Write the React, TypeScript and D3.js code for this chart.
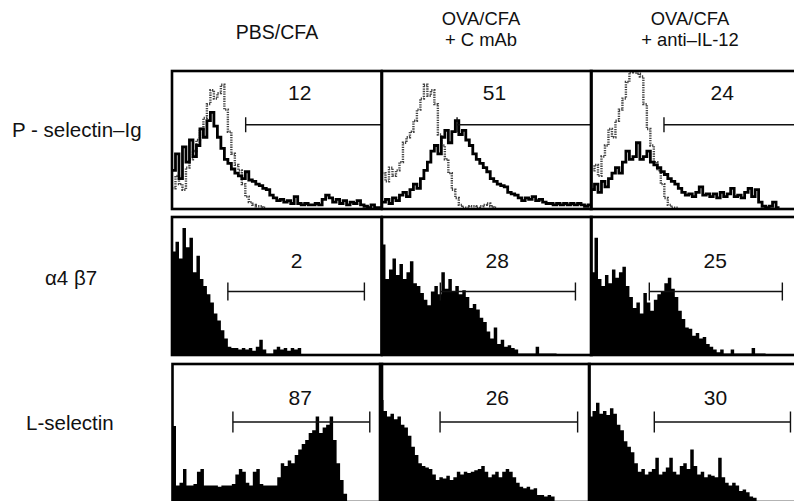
import * as d3 from 'd3';
import React, { useRef, useEffect } from 'react';

const width = 794;
const height = 501;
const bins = 60;

// column headers and row markers
const groupLines = [['PBS/CFA'], ['OVA/CFA', '+ C mAb'], ['OVA/CFA', '+ anti–IL-12']];
const markers = ['P - selectin–Ig', 'α4 β7', 'L-selectin'];
const percents = [
  [12, 51, 24],
  [2, 28, 25],
  [87, 26, 30],
];

// gates, in channel units (0..60)
const gateStart = [
  [21.1, 21.5, 20.9],
  [16.0, 16.7, 16.7],
  [17.3, 17.2, 18.7],
];
const gateEnd = [
  [60, 60, 60],
  [55.1, 55.4, 54.8],
  [56.5, 56.6, 57.7],
];

// P-selectin-Ig: stained (solid) and control (dotted), % of max count per channel
const pselPbs = [
  28, 40, 22, 45, 34, 50, 38, 46, 58, 52, 64, 70, 60, 52, 44, 36, 33, 29, 26, 24,
  22, 27, 21, 20, 18, 17, 15, 14, 10, 8, 6, 7, 5, 6, 4, 9, 4, 3, 4, 3,
  3, 4, 3, 7, 10, 8, 5, 7, 4, 6, 3, 5, 4, 6, 3, 2, 1, 3, 1, 1,
];
const pselCmab = [
  5, 7, 4, 8, 6, 10, 12, 9, 14, 18, 15, 22, 28, 34, 42, 46, 40, 52, 57, 48,
  56, 64, 54, 57, 50, 46, 40, 36, 33, 30, 27, 22, 20, 18, 17, 16, 12, 11, 10, 8,
  6, 8, 7, 9, 6, 7, 5, 4, 4, 3, 4, 3, 4, 3, 4, 3, 4, 3, 2, 3,
];
const pselAnti = [
  14, 18, 12, 20, 16, 22, 26, 30, 26, 34, 42, 36, 38, 48, 36, 38, 42, 34, 32, 30,
  27, 25, 22, 20, 18, 15, 12, 10, 11, 9, 12, 16, 10, 11, 9, 11, 8, 12, 9, 11,
  15, 9, 10, 8, 12, 15, 9, 14, 5, 2, 1, 2, 5, 1,
];
const pselCtrlPbs = [
  15, 24, 18, 14, 30, 36, 42, 50, 58, 66, 76, 86, 80, 84, 90, 72, 56, 40, 32, 28,
  18, 9, 5, 3, 2, 2, 1,
];
const pselCtrlCmab = [
  26, 20, 30, 24, 28, 34, 48, 52, 56, 64, 72, 80, 90, 82, 86, 76, 54, 46, 36, 26,
  14, 8, 3, 1, 1, 2, 2, 1, 2, 3, 4, 2, 1,
];
const pselCtrlAnti = [
  28, 32, 24, 38, 46, 58, 52, 64, 72, 80, 92, 99, 100, 98, 96, 76, 58, 46, 34, 28,
  18, 8, 3, 1, 1,
];

// alpha4 beta7
const a4b7Pbs = [
  75, 82, 70, 92, 78, 85, 60, 72, 55, 50, 44, 38, 30, 25, 18, 12, 6, 5, 5, 4,
  5, 4, 5, 3, 6, 11, 4, 1, 1, 4, 6, 4, 5, 3, 5, 4, 5,
];
const a4b7Cmab = [
  80, 55, 62, 70, 58, 66, 55, 60, 68, 52, 50, 45, 40, 36, 46, 50, 44, 60, 48, 55,
  46, 50, 44, 47, 42, 34, 37, 33, 27, 24, 17, 12, 20, 8, 11, 6, 7, 5, 4, 1,
  1, 1, 1, 1, 6, 1, 1, 1, 1, 1,
];
const a4b7Anti = [
  60, 85, 55, 50, 58, 52, 62, 56, 60, 64, 50, 42, 34, 38, 30, 45, 38, 32, 40, 44,
  46, 52, 56, 48, 42, 32, 26, 20, 19, 14, 16, 12, 13, 8, 6, 4, 2, 4, 1, 1,
  4, 1, 1, 1, 1, 1, 5, 1, 1, 1,
];

// L-selectin
const lselPbs = [
  55, 12, 14, 24, 12, 12, 13, 22, 24, 12, 12, 12, 12, 11, 12, 12, 12, 13, 20, 24,
  22, 14, 12, 22, 24, 13, 12, 12, 12, 12, 18, 28, 26, 30, 28, 34, 38, 42, 45, 50,
  52, 62, 50, 54, 56, 62, 45, 28, 16, 6,
];
const lselCmab = [
  74, 66, 62, 64, 60, 62, 56, 54, 48, 40, 34, 28, 26, 25, 24, 20, 16, 18, 17, 19,
  16, 18, 22, 20, 22, 21, 22, 23, 24, 26, 22, 18, 20, 22, 18, 22, 24, 22, 18, 14,
  11, 10, 11, 9, 10, 5, 5, 4, 5, 4,
];
const lselAnti = [
  62, 66, 72, 64, 66, 63, 68, 64, 56, 52, 44, 40, 36, 28, 22, 24, 20, 22, 24, 32,
  20, 22, 25, 32, 22, 20, 26, 28, 24, 38, 26, 20, 22, 18, 20, 19, 18, 32, 18, 14,
  12, 14, 12, 8, 9, 7, 4, 3,
];

const stained = [
  [pselPbs, pselCmab, pselAnti],
  [a4b7Pbs, a4b7Cmab, a4b7Anti],
  [lselPbs, lselCmab, lselAnti],
];
const controls = [pselCtrlPbs, pselCtrlCmab, pselCtrlAnti];

// layout
const rowTop = [71, 217, 364];
const rowH = 138;
const colLeft = [
  [172, 382, 591],
  [172, 382, 591],
  [172.5, 380, 589],
];
const colW = 209.5;
const gateY = [61, 46, 58];
const gateTick = [7.5, 9, 10.5];
const labelY = [79, 63, 70.5];
const labelX = [
  [36.6, 32.2, 37.6],
  [35.7, 33, 35.6],
  [36.6, 33.6, 36.2],
];
const headerX = [277, 481, 690];
const markerX = [12, 45, 26];
const markerY = [137, 285, 430];
const font = '"Liberation Sans", Arial, Helvetica, sans-serif';

function App() {
  const ref = useRef<SVGSVGElement>(null);

  useEffect(() => {
    const svg = d3.select(ref.current);
    svg.selectAll('*').remove();
    svg.append('rect').attr('width', width).attr('height', height).attr('fill', '#fff');
    const defs = svg.append('defs');

    // headers, one text per line
    groupLines.forEach((lines, c) => {
      lines.forEach((l, k) => {
        const single = lines.length === 1;
        svg
          .append('text')
          .attr('x', headerX[c])
          .attr('y', single ? 39 : 25 + k * 21.2)
          .attr('text-anchor', 'middle')
          .attr('font-family', font)
          .attr('font-size', single ? 19.5 : 18.4)
          .attr('fill', '#111')
          .text(l);
      });
    });

    markers.forEach((m, r) => {
      svg
        .append('text')
        .attr('x', markerX[r])
        .attr('y', markerY[r])
        .attr('font-family', font)
        .attr('font-size', 20.5)
        .attr('fill', '#111')
        .text(m);

      for (let c = 0; c < 3; c++) {
        const x0 = colLeft[r][c];
        const y0 = rowTop[r];
        const x = d3.scaleLinear().domain([0, bins]).range([x0, x0 + colW]);
        const y = d3.scaleLinear().domain([0, 100]).range([y0 + rowH, y0]);

        const id = `clip-${r}-${c}`;
        defs.append('clipPath').attr('id', id).append('rect').attr('x', x0).attr('y', y0).attr('width', colW).attr('height', rowH);
        const g = svg.append('g').attr('clip-path', `url(#${id})`);

        const toPts = (vals: number[]): [number, number][] => [
          ...vals.map((v, i) => [i, v] as [number, number]),
          [vals.length, vals[vals.length - 1]],
        ];

        if (r === 0) {
          const line = d3
            .line<[number, number]>()
            .x((d) => x(d[0]))
            .y((d) => y(d[1]))
            .curve(d3.curveStepAfter);
          g.append('path')
            .attr('d', line(toPts(controls[c])))
            .attr('fill', 'none')
            .attr('stroke', '#444')
            .attr('stroke-width', 2.4)
            .attr('stroke-dasharray', '1.3 1.1');
          g.append('path')
            .attr('d', line(toPts(stained[r][c])))
            .attr('fill', 'none')
            .attr('stroke', '#000')
            .attr('stroke-width', 2.8);
        } else {
          const area = d3
            .area<[number, number]>()
            .x((d) => x(d[0]))
            .y0(y(0))
            .y1((d) => y(d[1]))
            .curve(d3.curveStepAfter);
          g.append('path').attr('d', area(toPts(stained[r][c]))).attr('fill', '#000');
        }

        // gate marker
        const gy = y(gateY[r]);
        const gx1 = x(gateStart[r][c]);
        const gx2 = x(gateEnd[r][c]);
        g.append('line').attr('x1', gx1).attr('x2', gx2).attr('y1', gy).attr('y2', gy).attr('stroke', '#111').attr('stroke-width', 1.4);
        g.append('line').attr('x1', gx1).attr('x2', gx1).attr('y1', gy - gateTick[r]).attr('y2', gy + gateTick[r]).attr('stroke', '#111').attr('stroke-width', 1.4);
        if (gateEnd[r][c] < bins) {
          g.append('line').attr('x1', gx2).attr('x2', gx2).attr('y1', gy - gateTick[r]).attr('y2', gy + gateTick[r]).attr('stroke', '#111').attr('stroke-width', 1.4);
        }

        svg
          .append('text')
          .attr('x', x(labelX[r][c]))
          .attr('y', y(labelY[r]))
          .attr('text-anchor', 'middle')
          .attr('font-family', font)
          .attr('font-size', 21)
          .attr('fill', '#111')
          .text(percents[r][c]);

        svg
          .append('rect')
          .attr('x', x0)
          .attr('y', y0)
          .attr('width', colW)
          .attr('height', rowH)
          .attr('fill', 'none')
          .attr('stroke', '#000')
          .attr('stroke-width', 2.6);
      }
    });
  }, []);

  return (
    <svg ref={ref} width={width} height={height} style={{ position: 'absolute', left: 0, top: 0 }} />
  );
}

export default App;
